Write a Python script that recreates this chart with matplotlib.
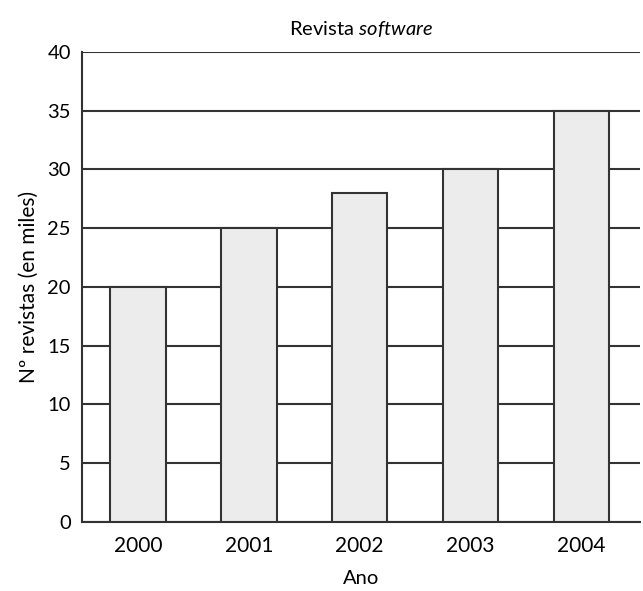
import numpy as np
import matplotlib.pyplot as plt

# Revistas vendidas por año (en miles)
years = ["2000", "2001", "2002", "2003", "2004"]
counts = [20, 25, 28, 30, 35]
yticks = [0, 5, 10, 15, 20, 25, 30, 35, 40]

plt.rcParams["font.family"] = ["Lato", "DejaVu Sans"]
plt.rcParams["mathtext.fontset"] = "custom"
plt.rcParams["mathtext.rm"] = "Lato"
plt.rcParams["mathtext.it"] = "Lato:italic"

fig = plt.figure(figsize=(6.43, 5.91), dpi=100)
ax = fig.add_axes([0.1275, 0.1168, 0.8678, 0.7952])

x = np.arange(len(years))
ax.bar(x, counts, width=0.5, color="#ececec", edgecolor="#333333",
       linewidth=1.5, zorder=3)

ax.set_xlim(-0.506, 4.53)
ax.set_ylim(0, 40)
ax.set_yticks(yticks)
ax.set_xticks(x)
ax.set_xticklabels(years)
ax.yaxis.grid(True, color="#333333", linewidth=1.5, zorder=0)
ax.set_axisbelow(True)
ax.tick_params(length=0, labelsize=14.5, pad=8)
ax.tick_params(axis="x", labelsize=15, pad=10)

for side in ["top", "right"]:
    ax.spines[side].set_visible(False)
for side in ["left", "bottom"]:
    ax.spines[side].set_color("#333333")
    ax.spines[side].set_linewidth(1.5)

ax.set_title(r"Revista $\it{software}$", fontsize=14.5, pad=12)
ax.set_ylabel("Nº revistas (en miles)", fontsize=15, labelpad=6)
ax.set_xlabel("Ano", fontsize=14.5, labelpad=10)

fig.savefig("out.png", dpi=100)
